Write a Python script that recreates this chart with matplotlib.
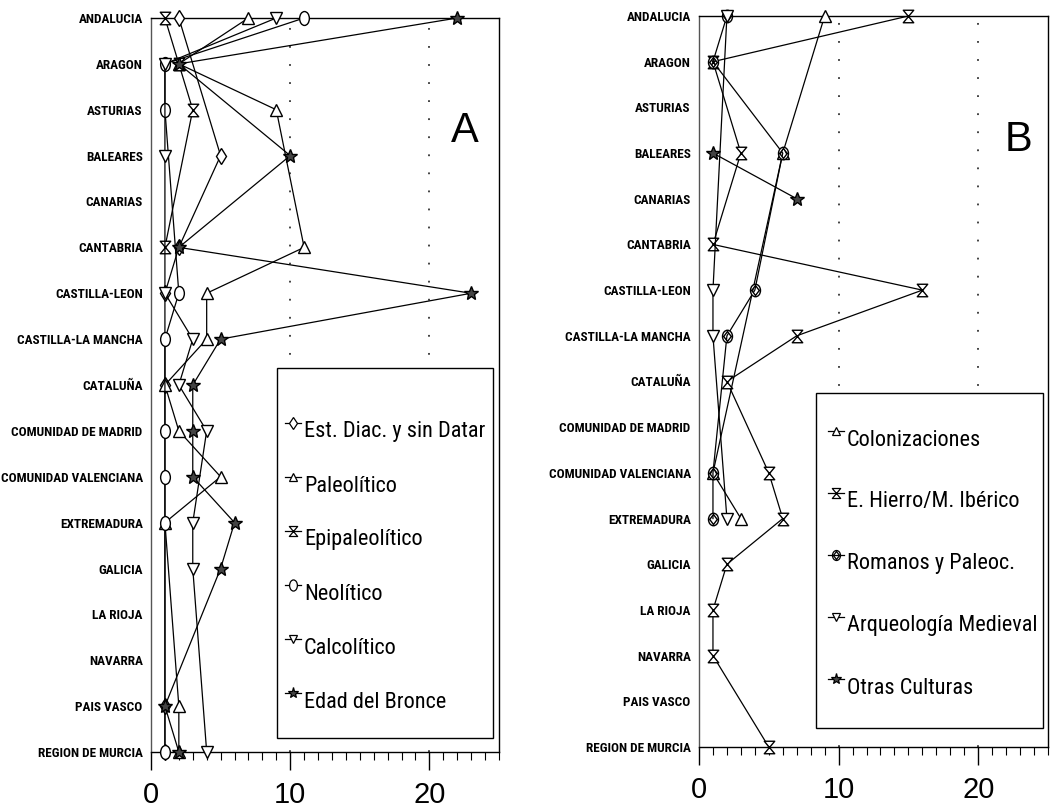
import numpy as np
import matplotlib
matplotlib.use('Agg')
import matplotlib.pyplot as plt
from matplotlib.path import Path
from matplotlib.transforms import Affine2D
from matplotlib.lines import Line2D
from matplotlib.patches import Rectangle
from matplotlib.ticker import MultipleLocator
from matplotlib import font_manager as fm

nan = np.nan

categories = ["ANDALUCIA", "ARAGON", "ASTURIAS", "BALEARES", "CANARIAS", "CANTABRIA",
              "CASTILLA-LEON", "CASTILLA-LA MANCHA", "CATALUÑA", "COMUNIDAD DE MADRID",
              "COMUNIDAD VALENCIANA", "EXTREMADURA", "GALICIA", "LA RIOJA", "NAVARRA",
              "PAIS VASCO", "REGION DE MURCIA"]

# ---- Panel A ----
est_diac = [2, nan, nan, 5, nan, 2, 1, nan, 1, nan, nan, nan, nan, nan, nan, 1, 1]
paleolitico = [7, 2, 9, nan, nan, 11, 4, 4, 1, 2, 5, 1, nan, nan, nan, 2, 2]
epipaleolitico = [1, 2, 3, nan, nan, 1, nan, nan, nan, nan, nan, nan, nan, nan, nan, nan, nan]
neolitico = [11, 1, 1, nan, nan, nan, 2, 1, nan, 1, 1, 1, nan, nan, nan, nan, 1]
calcolitico = [9, 1, nan, 1, nan, nan, 1, 3, 2, 4, nan, 3, 3, nan, nan, nan, 4]
bronce = [22, 2, nan, 10, nan, 2, 23, 5, 3, 3, 3, 6, 5, nan, nan, 1, 2]
labels_a = ["Est. Diac. y sin Datar", "Paleolítico", "Epipaleolítico",
            "Neolítico", "Calcolítico", "Edad del Bronce"]

# ---- Panel B ----
colonizaciones = [9, nan, nan, 6, nan, nan, nan, nan, nan, nan, 1, 3, nan, nan, nan, nan, nan]
hierro_iberico = [15, 1, nan, 3, nan, 1, 16, 7, 2, nan, 5, 6, 2, 1, 1, nan, 5]
romanos = [2, 1, nan, 6, nan, nan, 4, 2, nan, nan, 1, 1, nan, nan, nan, nan, nan]
medieval = [2, nan, nan, nan, nan, nan, 1, 1, nan, nan, nan, 2, nan, nan, nan, nan, nan]
otras = [nan, nan, nan, 1, 7, nan, nan, nan, nan, nan, nan, nan, nan, nan, nan, nan, nan]
labels_b = ["Colonizaciones", "E. Hierro/M. Ibérico", "Romanos y Paleoc.",
            "Arqueología Medieval", "Otras Culturas"]

xticks = [0, 10, 20]
panel_letters = ["A", "B"]

# ---- fonts ----
names = {f.name for f in fm.fontManager.ttflist}
def pick(*cands):
    for c in cands:
        if c in names:
            return c
    return 'DejaVu Sans'
NARROW = pick('Liberation Sans Narrow', 'Roboto Condensed', 'Liberation Sans')
REG = pick('Liberation Sans', 'DejaVu Sans')

# ---- markers ----
hourglass = Path([(-0.5, 0.6), (0.5, 0.6), (-0.5, -0.6), (0.5, -0.6), (-0.5, 0.6)],
                 [Path.MOVETO, Path.LINETO, Path.LINETO, Path.LINETO, Path.CLOSEPOLY])
ellipse = Path.unit_circle().transformed(Affine2D().scale(0.7, 1.0))
diam = Path([(0, 0.8), (0.6, 0), (0, -0.8), (-0.6, 0), (0, 0.8)],
            [Path.MOVETO, Path.LINETO, Path.LINETO, Path.LINETO, Path.CLOSEPOLY])
romano = Path.make_compound_path(Path.unit_circle().transformed(Affine2D().scale(0.8, 1.0)), diam)

# (marker, size, face)
styles_a = [('d', 8, 'white'), ('^', 8, 'white'), (hourglass, 9, 'white'),
            (ellipse, 10, 'white'), ('v', 8, 'white'), ('*', 10, '#444444')]
styles_b = [('^', 8, 'white'), (hourglass, 9, 'white'), (romano, 9, 'white'),
            ('v', 8, 'white'), ('*', 10, '#444444')]

fig = plt.figure(figsize=(10.5, 8.08), dpi=100)
W, H = 1050, 808

def fx(x):
    return x / W
def fy(y):
    return 1 - y / H

axA = fig.add_axes([fx(151), fy(752), 348 / W, 734 / H])
axB = fig.add_axes([fx(699), fy(747), 349 / W, 731 / H])

ypos = np.arange(len(categories))

def setup(ax):
    ax.set_xlim(0, 25)
    ax.set_ylim(len(categories) - 1, 0)
    ax.set_yticks(ypos)
    ax.set_yticklabels(categories, fontsize=9.5, fontweight='bold', family=NARROW)
    ax.tick_params(axis='y', length=0, pad=6)
    ax.set_xticks(xticks)
    ax.xaxis.set_minor_locator(MultipleLocator(1))
    ax.tick_params(axis='x', which='major', length=13, width=1, direction='out',
                   labelsize=21, pad=8)
    ax.tick_params(axis='x', which='minor', length=6, width=0.8, direction='out')
    for lab in ax.get_xticklabels():
        lab.set_family(REG)
    for s in ax.spines.values():
        s.set_linewidth(1.0)
    ax.spines['left'].set_color('#555555')
    for g in (10, 20):
        ax.axvline(g, color='#333333', lw=1.3, ls=(0, (1, 9)), zorder=0)

def draw(ax, series, styles):
    for vals, (m, ms, fc) in zip(series, styles):
        v = np.array(vals, dtype=float)
        mask = ~np.isnan(v)
        ax.plot(v[mask], ypos[mask], color='black', lw=0.9, marker=m, ms=ms,
                mfc=fc, mec='black', mew=1.0, clip_on=False, zorder=3)

setup(axA)
setup(axB)
draw(axA, [est_diac, paleolitico, epipaleolitico, neolitico, calcolitico, bronce], styles_a)
draw(axB, [colonizaciones, hierro_iberico, romanos, medieval, otras], styles_b)

def legend(box, tx, ys, labels, styles, fs):
    x0, y0, x1, y1 = box
    fig.patches.append(Rectangle((fx(x0), fy(y1)), (x1 - x0) / W, (y1 - y0) / H,
                                 transform=fig.transFigure, facecolor='white',
                                 edgecolor='black', lw=1.0, zorder=5))
    for y, lab, (m, ms, fc) in zip(ys, labels, styles):
        hy = y - 9
        fig.lines.append(Line2D([fx(tx - 19), fx(tx - 3)], [fy(hy), fy(hy)],
                                transform=fig.transFigure, color='black', lw=0.9,
                                marker=None, zorder=6))
        fig.lines.append(Line2D([fx(tx - 11)], [fy(hy)], transform=fig.transFigure,
                                color='black', marker=m, ms=ms * 0.8, mfc=fc,
                                mec='black', mew=0.9, zorder=7))
        fig.text(fx(tx), fy(y), lab, fontsize=fs, family=NARROW, va='center',
                 ha='left', zorder=7)

legend((277, 368, 493, 738), 304, [432, 486, 540, 594, 648, 702], labels_a, styles_a, 16)
legend((816, 393, 1043, 728), 847, [440, 502, 564, 626, 688], labels_b, styles_b, 16)

fig.text(fx(465), fy(131), panel_letters[0], fontsize=30, family=REG, ha='center', va='center')
fig.text(fx(1019), fy(140), panel_letters[1], fontsize=30, family=REG, ha='center', va='center')

fig.savefig('out.png', dpi=100, facecolor='white')
